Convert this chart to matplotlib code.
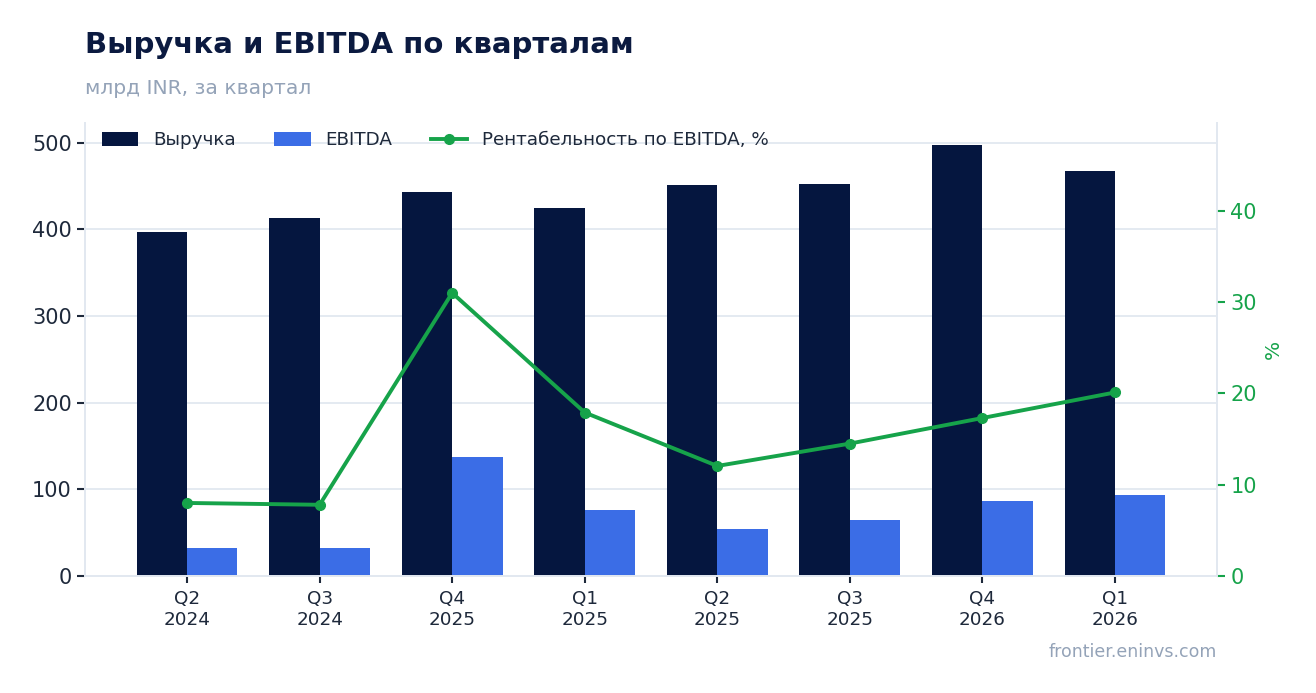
import matplotlib
matplotlib.use('Agg')
import matplotlib.pyplot as plt
import numpy as np

# --- данные ---
quarters = ['Q2\n2024', 'Q3\n2024', 'Q4\n2025', 'Q1\n2025',
            'Q2\n2025', 'Q3\n2025', 'Q4\n2026', 'Q1\n2026']
revenue = [397, 413, 443, 425, 451, 453, 498, 467]
ebitda = [32, 32, 137, 76, 54, 65, 87, 93]
margin = [8.0, 7.8, 31.0, 17.9, 12.05, 14.5, 17.3, 20.1]

NAVY = '#05163f'
BLUE = '#3b6de6'
GREEN = '#16a34a'
GRID = '#e2e8f0'
MUTED = '#94a3b8'
TEXT = '#1e293b'

plt.rcParams['font.family'] = ['DejaVu Sans']

fig = plt.figure(figsize=(13.16, 6.93), dpi=100)
ax = fig.add_axes([0.0646, 0.1688, 0.8602, 0.6537])

x = np.arange(len(quarters))
w = 0.38
ax.bar(x - w / 2, revenue, w, color=NAVY, label='Выручка', zorder=2)
ax.bar(x + w / 2, ebitda, w, color=BLUE, label='EBITDA', zorder=2)

ax.set_xlim(-0.77, len(quarters) - 1 + 0.77)
ax.set_ylim(0, max(revenue) * 1.05)
ax.set_yticks([0, 100, 200, 300, 400, 500])
ax.set_xticks(x)
ax.set_xticklabels(quarters, fontsize=13.2, color=TEXT)
ax.tick_params(axis='y', labelsize=15, colors=TEXT, length=6, width=1.5)
ax.tick_params(axis='x', length=5, width=1.5, colors=TEXT, pad=5)
ax.yaxis.grid(True, color=GRID, linewidth=1.3, zorder=0)
ax.set_axisbelow(True)
for s in ['left', 'bottom', 'right']:
    ax.spines[s].set_color(GRID)
    ax.spines[s].set_linewidth(1.3)
ax.spines['top'].set_visible(False)

# правая ось - рентабельность
ax2 = ax.twinx()
ax2.plot(x, margin, color=GREEN, linewidth=2.8, marker='o', markersize=7,
         label='Рентабельность по EBITDA, %', zorder=3)
ax2.set_ylim(0, max(margin) * 1.6)
ax2.set_yticks([0, 10, 20, 30, 40])
ax2.tick_params(axis='y', labelsize=15, colors=GREEN, length=6, width=1.5)
ax2.set_ylabel('%', color=GREEN, fontsize=14.5, labelpad=5)
for s in ['left', 'bottom', 'right']:
    ax2.spines[s].set_color(GRID)
    ax2.spines[s].set_linewidth(1.3)
ax2.spines['top'].set_visible(False)

h1, l1 = ax.get_legend_handles_labels()
h2, l2 = ax2.get_legend_handles_labels()
ax2.legend(h1 + h2, l1 + l2, loc='upper left', ncol=3, frameon=False,
           fontsize=13.2, handlelength=2.0, handleheight=0.75,
           handletextpad=0.8, columnspacing=2.1,
           bbox_to_anchor=(0.0, 1.018), labelcolor=TEXT)

fig.text(0.0646, 0.935, 'Выручка и EBITDA по кварталам', fontsize=21,
         fontweight='bold', color='#0b1a40', ha='left', va='center')
fig.text(0.0646, 0.873, 'млрд INR, за квартал', fontsize=14.6,
         color=MUTED, ha='left', va='center')
fig.text(0.9248, 0.059, 'frontier.eninvs.com', fontsize=12.5,
         color=MUTED, ha='right', va='center')

fig.savefig('out.png', dpi=100)
